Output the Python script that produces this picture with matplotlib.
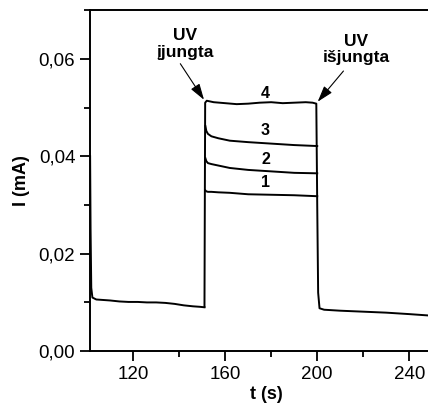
import matplotlib.pyplot as plt
from matplotlib.ticker import FuncFormatter, MultipleLocator

plt.rcParams['font.family'] = ['Liberation Sans', 'DejaVu Sans']

# tamsa prieš UV
t_pries = [101.3, 101.5, 101.8, 102.3, 104, 107, 110, 114, 118, 122, 126, 130, 134, 138, 142, 146, 149, 151]
I_pries = [0.040, 0.025, 0.013, 0.0110, 0.0106, 0.0105, 0.0104, 0.0102, 0.0101, 0.0101, 0.0100, 0.0100, 0.0099, 0.0097, 0.0094, 0.0092, 0.0091, 0.0090]

# 4 kreive (UV ijungta -> isjungta -> tamsa)
t_4 = [151.0, 151.3, 152, 155, 160, 165, 170, 175, 180, 185, 190, 195, 198, 199.6, 200.0, 200.4, 201, 203, 210, 220, 230, 240, 249]
I_4 = [0.0091, 0.0510, 0.0514, 0.0511, 0.0509, 0.0507, 0.0508, 0.0510, 0.0511, 0.0509, 0.0510, 0.0511, 0.0510, 0.0508, 0.0300, 0.0120, 0.0088, 0.0085, 0.0083, 0.0081, 0.0079, 0.0076, 0.0073]

# 1-3 kreives
t_123 = [151.4, 151.8, 152.5, 154, 157, 162, 170, 180, 190, 200]
I_3 = [0.0462, 0.0452, 0.0446, 0.0441, 0.0437, 0.0432, 0.0429, 0.0426, 0.0423, 0.0421]
I_2 = [0.0396, 0.0390, 0.0386, 0.0384, 0.0381, 0.0376, 0.0372, 0.0369, 0.0366, 0.0365]
I_1 = [0.0330, 0.0328, 0.0327, 0.0327, 0.0326, 0.0325, 0.0322, 0.0321, 0.0320, 0.0318]

fig = plt.figure(figsize=(4.28, 4.05), dpi=100)
ax = fig.add_axes([0.210, 0.133, 0.80, 0.842])

kw = dict(color='black', lw=1.4)
ax.plot(t_pries, I_pries, **kw)
ax.plot(t_4, I_4, **kw)
for I in (I_1, I_2, I_3):
    ax.plot(t_123, I, **kw)

ax.set_xlim(101.2, 250)
ax.set_ylim(0, 0.07)
ax.xaxis.set_major_locator(MultipleLocator(40))
ax.xaxis.set_minor_locator(MultipleLocator(20))
ax.yaxis.set_major_locator(MultipleLocator(0.02))
ax.yaxis.set_minor_locator(MultipleLocator(0.01))
ax.yaxis.set_major_formatter(FuncFormatter(lambda v, p: f'{v:.2f}'.replace('.', ',')))
ax.tick_params(which='both', direction='out', width=1.3, labelsize=13.5)
ax.tick_params(which='major', length=7)
ax.tick_params(which='minor', length=4)
ax.spines['right'].set_visible(False)
for s in ('left', 'top', 'bottom'):
    ax.spines[s].set_linewidth(1.4)

ax.set_ylabel('I (mA)', fontsize=13, fontweight='bold', labelpad=6)
fig.text(0.622, 0.005, 't (s)', fontsize=13, fontweight='bold', ha='center', va='bottom')

rod = dict(arrowstyle='-|>,head_length=0.7,head_width=0.22', color='black', lw=0.8,
           mutation_scale=14, shrinkA=0, shrinkB=0)
ax.text(142.7, 0.0631, 'UV\nįjungta', ha='center', va='center', fontsize=12.5,
        fontweight='bold', linespacing=1.15)
ax.annotate('', xy=(150.8, 0.0516), xytext=(140.5, 0.0590), arrowprops=rod)
ax.text(217, 0.0619, 'UV\nišjungta', ha='center', va='center', fontsize=12.5,
        fontweight='bold', linespacing=1.15)
ax.annotate('', xy=(200.2, 0.0512), xytext=(211.4, 0.0575), arrowprops=rod)

for txt, y in (('4', 0.0528), ('3', 0.0452), ('2', 0.0394), ('1', 0.0346)):
    ax.text(177.5, y, txt, fontsize=11.5, fontweight='bold', ha='center', va='center')

fig.savefig('out.png', dpi=100)
